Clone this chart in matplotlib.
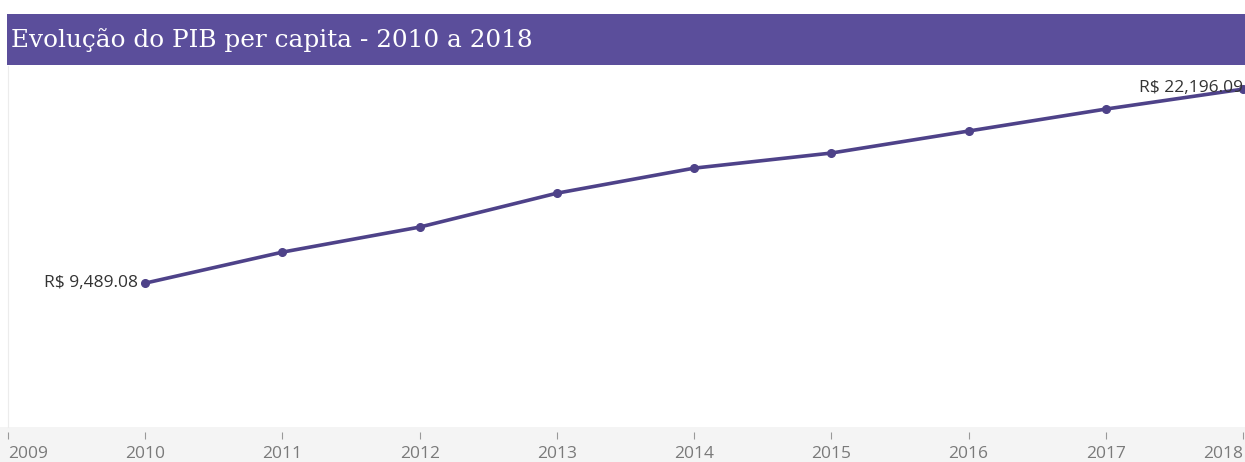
import matplotlib
matplotlib.use("Agg")
import matplotlib.pyplot as plt
from matplotlib.patches import Rectangle

# Dados (valores estimados a partir da imagem)
anos = [2010, 2011, 2012, 2013, 2014, 2015, 2016, 2017, 2018]
pib_per_capita = [9489.08, 11520, 13160, 15380, 17020, 18010, 19450, 20890, 22196.09]
anos_ticks = [2009, 2010, 2011, 2012, 2013, 2014, 2015, 2016, 2017, 2018]
titulo = "Evolução do PIB per capita - 2010 a 2018"

W, H = 1245, 462
cor_linha = "#4E4289"
cor_barra = "#5B4E9B"

fig = plt.figure(figsize=(W / 100, H / 100), dpi=100)

# faixa cinza do eixo x
fig.patches.append(Rectangle((0, 0), 1, 35 / H, transform=fig.transFigure,
                             facecolor="#f4f4f4", edgecolor="none", zorder=-2))
# barra do titulo
fig.patches.append(Rectangle((7 / W, (H - 65) / H), 1 - 7 / W, 51 / H,
                             transform=fig.transFigure, facecolor=cor_barra,
                             edgecolor="none", zorder=-2))
fig.text(11 / W, (H - 40) / H, titulo, fontsize=17.8, color="white",
         family="DejaVu Serif", va="center", ha="left")

ax = fig.add_axes([8 / W, (H - 432) / H, 1235 / W, 366 / H])
ax.patch.set_alpha(0)
ax.plot(anos, pib_per_capita, color=cor_linha, lw=2.6, marker="o", ms=5.5,
        clip_on=False, zorder=3)
ax.set_xlim(2009, 2018)
ax.set_ylim(-262, 23711)

ax.annotate(f"R$ {pib_per_capita[0]:,.2f}", (anos[0], pib_per_capita[0]),
            xytext=(-5, 0), textcoords="offset points", ha="right", va="center",
            fontsize=12.5, color="#333333", family="Open Sans")
ax.annotate(f"R$ {pib_per_capita[-1]:,.2f}", (anos[-1], pib_per_capita[-1]),
            xytext=(0, 1), textcoords="offset points", ha="right", va="center",
            fontsize=12.5, color="#333333", family="Open Sans", zorder=4)

ax.set_xticks(anos_ticks)
ax.set_xticklabels([str(a) for a in anos_ticks], fontsize=12.5, color="#7a7a7a",
                   family="Open Sans")
ax.tick_params(axis="x", direction="out", length=5, color="#999999", pad=5)
rotulos = ax.get_xticklabels()
rotulos[0].set_ha("left")
rotulos[-1].set_ha("right")
ax.set_yticks([])
for s in ["top", "right", "bottom"]:
    ax.spines[s].set_visible(False)
ax.spines["left"].set_color("#ececec")
ax.spines["left"].set_bounds(40, 23711)

fig.savefig("out.png", dpi=100)
